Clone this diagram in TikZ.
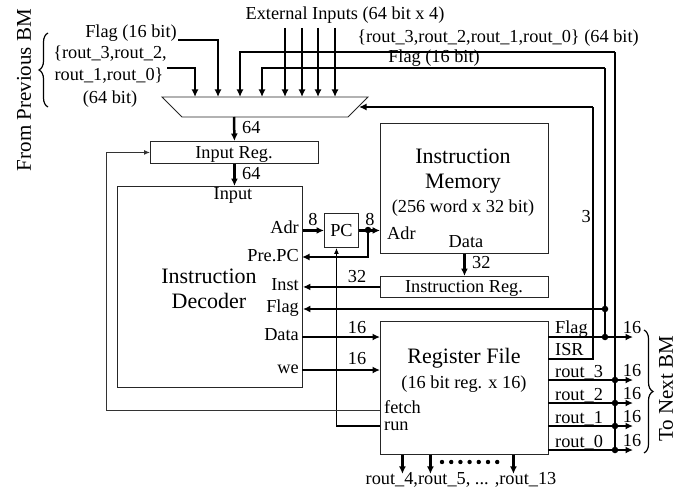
\documentclass[tikz,border=0pt]{standalone}
\usepackage{fontspec}
\setmainfont{Liberation Serif}
\usetikzlibrary{arrows.meta,decorations.pathreplacing}
\begin{document}
\begin{tikzpicture}[x=1pt,y=-1pt,
  box/.style={draw=black!85, line width=0.9pt, inner sep=0pt},
  txt/.style={font=\fontsize{18.3}{22}\selectfont, inner sep=0pt},
  big/.style={font=\fontsize{22}{26}\selectfont, inner sep=0pt},
  rot/.style={font=\fontsize{21}{25}\selectfont, inner sep=0pt, rotate=90},
  arr/.style={line width=2.5pt, -{Latex[length=7.5pt,width=7pt]}},
  midarr/.style={line width=2pt, -{Latex[length=7.5pt,width=7pt]}},
  wire/.style={line width=1.5pt},
  thinarr/.style={line width=1pt, draw=black!80, -{Latex[length=6pt,width=5pt]}},
  dot/.style={circle, fill, inner sep=0pt, minimum size=6.5pt},
  brc/.style={line width=1.2pt, decorate, decoration={brace, amplitude=9pt}},
]
\useasboundingbox (0,0) rectangle (690,492);

% ---------- boxes ----------
\draw[box] (162,97) -- (368,97) -- (348,117) -- (182,117) -- cycle;
\coordinate (muxb) at (234,117);
\node[box, minimum width=168pt, minimum height=22pt, anchor=north west] (inreg) at (150,141) {};
\node[box, minimum width=185pt, minimum height=201pt, anchor=north west] (dec) at (117,186) {};
\node[box, minimum width=34pt, minimum height=34pt, anchor=north west] (pc) at (324,213) {};
\node[box, minimum width=168pt, minimum height=130pt, anchor=north west] (imem) at (380,123) {};
\node[box, minimum width=168pt, minimum height=21pt, anchor=north west] (ireg) at (380,276) {};
\node[box, minimum width=168pt, minimum height=133pt, anchor=north west] (rf) at (380,321) {};

% ---------- box texts ----------
\node[txt, anchor=base] at (234,158) {Input Reg.};
\node[txt, anchor=base] at (233,199) {Input};
\node[big, anchor=base] at (209,283) {Instruction};
\node[big, anchor=base] at (209,308) {Decoder};
\node[txt, anchor=base east] at (299,233) {Adr};
\node[txt, anchor=base east] at (299,261) {Pre.PC};
\node[txt, anchor=base east] at (299,290) {Inst};
\node[txt, anchor=base east] at (299,312) {Flag};
\node[txt, anchor=base east] at (299,340) {Data};
\node[txt, anchor=base east] at (299,373) {we};
\node[txt] at (pc.center) {PC};
\node[big, anchor=base] at (463,163) {Instruction};
\node[big, anchor=base] at (463,188) {Memory};
\node[txt, anchor=base] at (463,212) {(256 word x 32 bit)};
\node[txt, anchor=base west] at (387,239) {Adr};
\node[txt, anchor=base] at (466,247) {Data};
\node[txt, anchor=base] at (464,292) {Instruction Reg.};
\node[big, anchor=base] at (464,363) {Register File};
\node[txt, anchor=base] at (464,388) {(16 bit reg. x 16)};
\node[txt, anchor=base west] at (384,413) {fetch};
\node[txt, anchor=base west] at (384,430) {run};
\node[txt, anchor=base west] at (555,333) {Flag};
\node[txt, anchor=base west] at (555,355) {ISR};
\node[txt, anchor=base west] at (555,377.5) {rout\_3};
\node[txt, anchor=base west] at (555,400.5) {rout\_2};
\node[txt, anchor=base west] at (555,423.5) {rout\_1};
\node[txt, anchor=base west] at (555,447.5) {rout\_0};

% ---------- top / left texts ----------
\node[rot] at (24,90) {From Previous BM};
\node[rot] at (666,389) {To Next BM};
\draw[brc] (48,107) -- (48,33);
\draw[brc] (644,330) -- (644,453);
\node[txt, anchor=base] (fpFlag) at (131,38) {Flag (16 bit)};
\node[txt, anchor=base] (fpR1) at (110,59) {\{rout\_3,rout\_2,};
\node[txt, anchor=base] (fpR2) at (109,81) {rout\_1,rout\_0\}};
\node[txt, anchor=base] (fpR3) at (110,103) {(64 bit)};
\node[txt, anchor=base] (extIn) at (345,20) {External Inputs (64 bit x 4)};
\node[txt, anchor=base] (fbR) at (498,43) {\{rout\_3,rout\_2,rout\_1,rout\_0\} (64 bit)};
\node[txt, anchor=base] (fbF) at (434,63) {Flag (16 bit)};

% ---------- mux inputs ----------
\coordinate (fpFend) at (178,40);
\coordinate (fpRend) at (167,68);
\coordinate (m1) at (195,97);
\coordinate (m2) at (218,97);
\coordinate (m3) at (240,97);
\coordinate (m4) at (262,97);
\draw[arr] (fpRend) -| (m1);
\draw[arr] (fpFend) -| (m2);
\foreach \x in {285,302,318,335} {
  \draw[arr] (\x,28) -- (\x,97);
}

% ---------- datapath ----------
\draw[arr] (muxb) -- (inreg.north);
\node[txt, anchor=base west] at (242,133) {64};
\draw[arr] (inreg.south) -- (inreg.south |- dec.north);
\node[txt, anchor=base west] at (242,179) {64};

\draw[arr] (dec.east |- pc.west) -- (pc.west);
\node[txt, anchor=base] at (313,225) {8};
\draw[arr] (pc.east) -- (pc.east -| imem.west);
\node[dot] (pcdot) at (368,230) {};
\node[txt, anchor=base] at (370,225) {8};
\coordinate (pcCorner) at (368,257);
\coordinate (dPre) at (302,257);
\draw[arr] (pcdot.center) -- (pcCorner) -- (dPre);

\coordinate (rfRun) at (380,426);
\coordinate (pcIn) at ([xshift=-5pt]pc.south);
\draw[line width=1.6pt, -{Latex[length=6pt,width=5pt]}] (rfRun) -| (pcIn);
\coordinate (rfFetch) at (380,410);
\coordinate (fetchCorner) at (106,410);
\draw[thinarr] (rfFetch) -- (fetchCorner) |- (inreg.west);

\draw[arr] (imem.south) -- (ireg.north);
\node[txt, anchor=base west] at (472,268) {32};
\draw[arr] (ireg.west) -- (ireg.west -| dec.east);
\node[txt, anchor=base] at (357,282) {32};

\coordinate (dData) at (302,337);
\coordinate (dWe) at (302,370);
\draw[arr] (dData) -- (dData -| rf.west);
\node[txt, anchor=base] at (357,333) {16};
\draw[arr] (dWe) -- (dWe -| rf.west);
\node[txt, anchor=base] at (357,364) {16};

% ---------- Flag feedback ----------
\node[dot] (fdot1) at (605,309) {};
\node[dot] (fdot2) at (605,337) {};
\draw[arr] (fdot1.center) -- (fdot1.center -| dec.east);
\coordinate (rfFlag) at (548,337);
\coordinate (oFlag) at (633,337);
\draw[arr] (rfFlag) -- (oFlag);
\node[txt, anchor=base] at (632,333) {16};
\coordinate (fTop) at (605,68);
\draw[wire] (fdot2.center) -- (fTop);
\draw[midarr] (fTop) -| (m4);

% ---------- rout outputs ----------
\foreach \y/\n in {380/3,403/2,426/1,450/0} {
  \coordinate (rfo\n) at (548,\y);
  \coordinate (out\n) at (633,\y);
  \draw[arr] (rfo\n) -- (out\n);
  \node[dot] (rdot\n) at (615,\y) {};
  \node[txt, anchor=base] at (632,\y-4) {16};
}
\coordinate (rTop) at (615,52);
\draw[wire] (rdot0.center) -- (rTop);
\draw[midarr] (rTop) -| (m3);

% ---------- ISR ----------
\coordinate (rfISR) at (548,359);
\coordinate (isrCorner) at (593,359);
\coordinate (isrTop) at (593,107);
\coordinate (muxR) at (359,107);
\draw[wire] (rfISR) -- (isrCorner) -- (isrTop);
\draw[arr] (isrTop) -- (muxR);
\node[txt, anchor=base east] at (591,222) {3};

% ---------- bottom outputs ----------
\foreach \dx in {-62,-34,49} {
  \draw[arr] ([xshift=\dx pt]rf.south) -- ++(0,19);
}
\foreach \i in {0,...,6} {
  \fill (442+\i*9.2,462) circle (2.2);
}
\node[txt, anchor=base] at (461,484) {rout\_4,rout\_5, ... ,rout\_13};
\end{tikzpicture}
\end{document}
